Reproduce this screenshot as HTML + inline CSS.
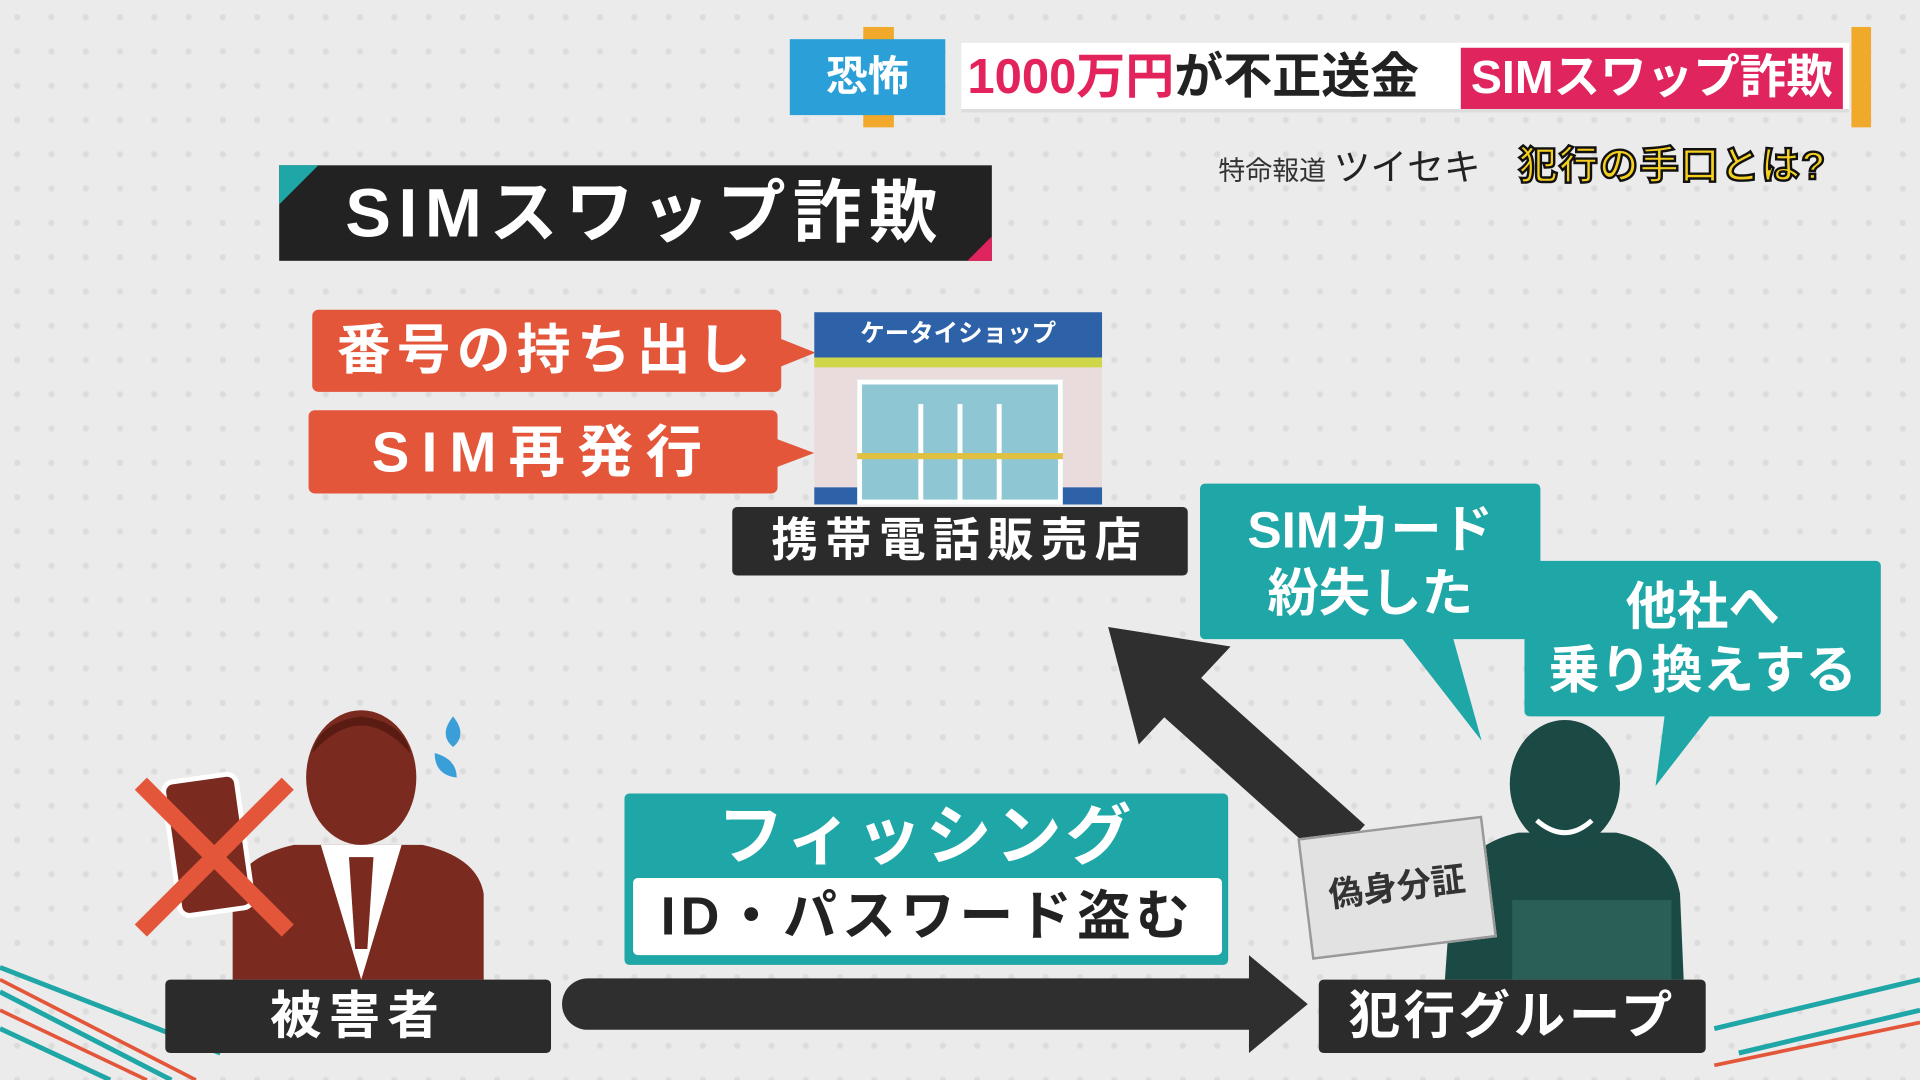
<!DOCTYPE html>
<html><head><meta charset="utf-8"><style>
html,body{margin:0;padding:0;width:1920px;height:1080px;overflow:hidden;background:#e9e9e9}
#s{position:absolute;left:0;top:0;width:1568px;height:882px;transform:scale(1.22449);transform-origin:0 0;
font-family:"Liberation Sans","Noto Sans CJK JP",sans-serif;font-weight:bold;
background-color:#ebebeb;
background-image:radial-gradient(circle,#dcdcdc 2px,transparent 3px);background-size:28px 28px}
.a{position:absolute;box-sizing:border-box}
.lbl{background:#2b2b2b;color:#fff;text-align:center;border-radius:4px}
.or{background:#e4563a;color:#fff;border-radius:5px;text-align:center}
.tl{background:#1fa6a6;color:#fff;text-align:center;border-radius:4px}
</style></head><body><div id="s">
<div class="a" style="left:705px;top:22px;width:25px;height:82px;background:#f0a92a"></div>
<div class="a" style="left:645px;top:32px;width:127px;height:62px;background:#2a9fd8;color:#fff;font-size:34px;line-height:62px;text-align:center">恐怖</div>
<div class="a" style="left:785px;top:35px;width:725px;height:57px;background:#fff;border-bottom:3px solid #ddd"></div>
<div class="a" style="left:790px;top:35px;height:57px;line-height:57px;font-size:40px;white-space:nowrap"><span style="color:#e3245c">1000万円</span><span style="color:#222">が不正送金</span></div>
<div class="a" style="left:1193px;top:39px;width:312px;height:50px;background:#e0245e;color:#fff;font-size:38px;line-height:50px;text-align:center;white-space:nowrap">SIMスワップ詐欺</div>
<div class="a" style="left:1512px;top:22px;width:16px;height:82px;background:#f0a92a"></div>
<div class="a" style="left:995px;top:112px;font-size:22px;color:#333;font-weight:normal;white-space:nowrap">特命報道 <span style="font-size:30px;color:#222">ツイセキ</span></div>
<div class="a" style="left:1240px;top:110px;font-size:32px;color:#f5d020;-webkit-text-stroke:2px #111;white-space:nowrap;letter-spacing:1px">犯行の手口とは?</div>
<div class="a" style="left:228px;top:135px;width:582px;height:78px;background:#222;color:#fff;font-size:56px;line-height:78px;padding-left:54px;white-space:nowrap;letter-spacing:6px">SIMスワップ詐欺</div>
<div class="a" style="left:228px;top:135px;width:0;height:0;border-top:32px solid #1fa6a6;border-right:32px solid transparent"></div>
<div class="a" style="left:790px;top:193px;width:0;height:0;border-bottom:20px solid #e0245e;border-left:20px solid transparent"></div>
<div class="a or" style="left:255px;top:253px;width:383px;height:67px;font-size:44px;line-height:67px;letter-spacing:5px">番号の持ち出し</div>
<div class="a" style="left:636px;top:276px;border-left:30px solid #e4563a;border-top:12px solid transparent;border-bottom:12px solid transparent"></div>
<div class="a or" style="left:252px;top:335px;width:383px;height:68px;font-size:46px;line-height:68px;letter-spacing:10px">SIM再発行</div>
<div class="a" style="left:633px;top:358px;border-left:32px solid #e4563a;border-top:12px solid transparent;border-bottom:12px solid transparent"></div>
<div class="a" style="left:665px;top:255px;width:235px;height:157px;background:#eadcdc"></div>
<div class="a" style="left:665px;top:255px;width:235px;height:37px;background:#2e62a8;color:#fff;font-size:20px;line-height:37px;text-align:center">ケータイショップ</div>
<div class="a" style="left:665px;top:292px;width:235px;height:8px;background:#cfd64a"></div>
<div class="a" style="left:700px;top:310px;width:168px;height:102px;background:#8fc6d4;border:4px solid #fff"></div>
<div class="a" style="left:750px;top:330px;width:4px;height:82px;background:#fff"></div>
<div class="a" style="left:782px;top:330px;width:4px;height:82px;background:#fff"></div>
<div class="a" style="left:814px;top:330px;width:4px;height:82px;background:#fff"></div>
<div class="a" style="left:700px;top:370px;width:168px;height:5px;background:#e0c040"></div>
<div class="a" style="left:665px;top:398px;width:35px;height:14px;background:#2e62a8"></div>
<div class="a" style="left:868px;top:398px;width:32px;height:14px;background:#2e62a8"></div>
<div class="a lbl" style="left:598px;top:414px;width:372px;height:56px;font-size:38px;line-height:56px;letter-spacing:6px">携帯電話販売店</div>
<svg class="a" style="left:0;top:0" width="1568" height="882">
<polygon points="1140,515 1185,515 1210,605" fill="#1fa6a6"/>
<polygon points="1360,580 1400,580 1352,642" fill="#1fa6a6"/>
<line x1="1100" y1="690" x2="955" y2="560" stroke="#2f2f2f" stroke-width="44"/>
<polygon points="905,512 1005,528 930,608" fill="#2f2f2f"/>
<line x1="480" y1="820" x2="1020" y2="820" stroke="#2f2f2f" stroke-width="42" stroke-linecap="round"/>
<polygon points="1020,780 1068,820 1020,860" fill="#2f2f2f"/>
<path d="M190,800 L190,730 Q195,700 240,690 L345,690 Q390,700 395,730 L395,800Z" fill="#7a2a1e"/>
<polygon points="262,690 328,690 295,800" fill="#fff"/>
<polygon points="285,700 305,700 300,775 290,775" fill="#7a2a1e"/>
<ellipse cx="295" cy="635" rx="45" ry="55" fill="#7a2a1e"/>
<path d="M255,615 Q295,570 335,615 Q330,590 295,585 Q260,590 255,615Z" fill="#5a1c12"/>
<path d="M370,585 q12,15 0,25 q-12,-10 0,-25Z" fill="#3a9fd8"/>
<path d="M355,615 q18,5 18,20 q-18,-2 -18,-20Z" fill="#3a9fd8"/>
<rect x="140" y="635" width="60" height="110" rx="8" fill="#7a2a1e" stroke="#fff" stroke-width="4" transform="rotate(-8 170 690)"/>
<line x1="115" y1="640" x2="235" y2="760" stroke="#e4563a" stroke-width="14"/>
<line x1="235" y1="640" x2="115" y2="760" stroke="#e4563a" stroke-width="14"/>
<path d="M1180,800 L1185,730 Q1195,690 1240,680 L1320,680 Q1365,690 1372,730 L1375,800Z" fill="#1b4a45"/>
<ellipse cx="1278" cy="640" rx="45" ry="52" fill="#1b4a45"/>
<path d="M1255,670 Q1278,690 1300,670" stroke="#fff" stroke-width="4" fill="none"/>
<rect x="1235" y="735" width="130" height="65" fill="#2a5f58"/>
<path d="M0,790 L180,860 M0,810 L140,882 M0,840 L90,882" stroke="#1fa6a6" stroke-width="4"/>
<path d="M0,800 L160,882 M0,825 L120,882" stroke="#e4563a" stroke-width="3"/>
<path d="M1400,840 L1568,800 M1420,860 L1568,825" stroke="#1fa6a6" stroke-width="4"/>
<path d="M1400,870 L1568,835" stroke="#e4563a" stroke-width="3"/>
</svg>
<div class="a tl" style="left:980px;top:395px;width:278px;height:127px;font-size:42px;line-height:52px;padding-top:12px">SIMカード<br>紛失した</div>
<div class="a tl" style="left:1245px;top:458px;width:291px;height:127px;font-size:42px;line-height:52px;padding-top:12px">他社へ<br>乗り換えする</div>
<div class="a" style="left:1065px;top:675px;width:152px;height:100px;background:#e2e2e2;border:2px solid #999;transform:rotate(-7deg);font-size:28px;line-height:96px;text-align:center;color:#333">偽身分証</div>
<div class="a tl" style="left:510px;top:648px;width:493px;height:140px;font-size:54px;line-height:70px;letter-spacing:3px">フィッシング</div>
<div class="a" style="left:517px;top:717px;width:481px;height:63px;background:#fff;border-radius:4px;font-size:44px;line-height:63px;text-align:center;color:#222;letter-spacing:4px">ID・パスワード盗む</div>
<div class="a lbl" style="left:135px;top:800px;width:315px;height:60px;font-size:42px;line-height:60px;letter-spacing:6px">被害者</div>
<div class="a lbl" style="left:1077px;top:800px;width:316px;height:60px;font-size:42px;line-height:60px;letter-spacing:3px">犯行グループ</div>
</div></body></html>
